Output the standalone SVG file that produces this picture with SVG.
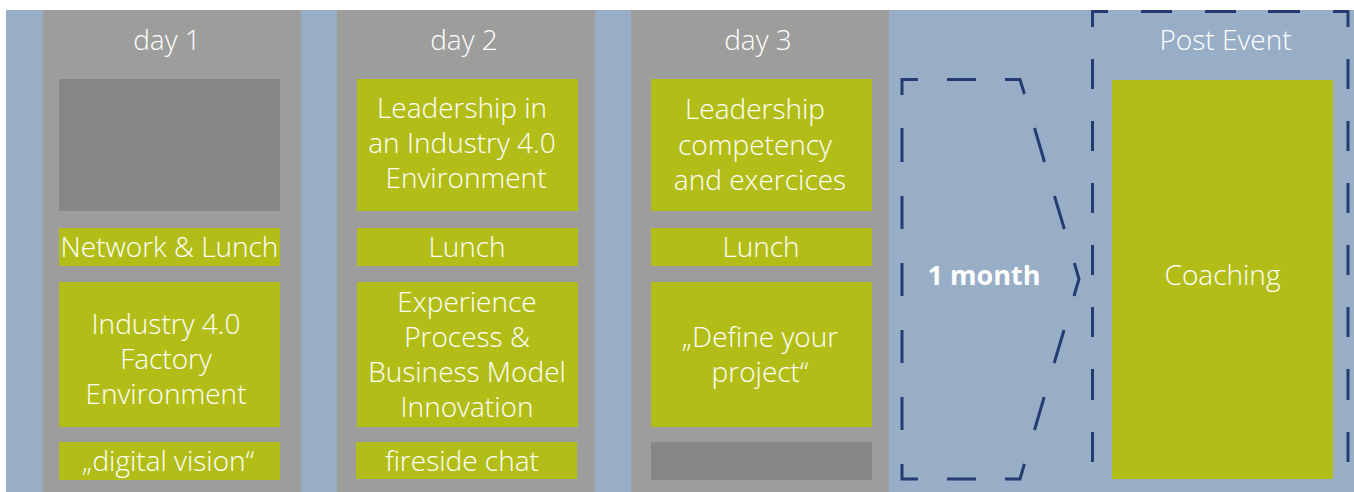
<svg xmlns="http://www.w3.org/2000/svg" width="1354" height="492" viewBox="0 0 1354 492">
<style>
.col{fill:#9d9d9b}
.gr{fill:#b2be17}
.dk{fill:#878787}
.t{font-family:"Open Sans","Noto Sans","DejaVu Sans",sans-serif;font-weight:300;font-size:28px;fill:#ffffff;text-anchor:middle}
.b{font-weight:700;font-size:27px}
.dash{fill:none;stroke:#243c72;stroke-width:3;stroke-linecap:butt;stroke-linejoin:miter}
</style>
<rect x="0" y="0" width="1354" height="492" fill="#ffffff"/>
<rect x="6" y="10" width="1348" height="482" fill="#97aec6"/>

<g id="day1">
<rect class="col" x="43" y="10" width="258" height="482"/>
<text class="t" x="167" y="50">day 1</text>
<rect class="dk" x="59" y="79" width="221" height="132"/>
<rect class="gr" x="59" y="228" width="221" height="38"/>
<text class="t" x="169.5" y="257">Network &amp; Lunch</text>
<rect class="gr" x="59" y="282" width="221" height="145"/>
<text class="t" x="166" y="334">Industry 4.0</text>
<text class="t" x="166" y="369">Factory</text>
<text class="t" x="166" y="404">Environment</text>
<rect class="gr" x="59" y="442" width="221" height="38"/>
<text class="t" x="168" y="471">„digital vision“</text>
</g>

<g id="day2">
<rect class="col" x="337" y="10" width="258" height="482"/>
<text class="t" x="464" y="50">day 2</text>
<rect class="gr" x="357" y="79" width="221" height="132"/>
<text class="t" x="462" y="118">Leadership in</text>
<text class="t" x="462" y="153">an Industry 4.0</text>
<text class="t" x="466" y="188">Environment</text>
<rect class="gr" x="357" y="228" width="221" height="38"/>
<text class="t" x="467" y="257">Lunch</text>
<rect class="gr" x="357" y="282" width="221" height="145"/>
<text class="t" x="467" y="312">Experience</text>
<text class="t" x="467" y="347">Process &amp;</text>
<text class="t" x="467" y="382">Business Model</text>
<text class="t" x="467" y="417">Innovation</text>
<rect class="gr" x="356" y="442" width="221" height="37"/>
<text class="t" x="462" y="471">fireside chat</text>
</g>

<g id="day3">
<rect class="col" x="631" y="10" width="258" height="482"/>
<text class="t" x="758" y="50">day 3</text>
<rect class="gr" x="651" y="79" width="221" height="132"/>
<text class="t" x="755" y="119">Leadership</text>
<text class="t" x="755" y="155">competency</text>
<text class="t" x="760" y="190">and exercices</text>
<rect class="gr" x="651" y="228" width="221" height="38"/>
<text class="t" x="761" y="257">Lunch</text>
<rect class="gr" x="651" y="282" width="221" height="145"/>
<text class="t" x="760" y="347">„Define your</text>
<text class="t" x="760" y="382">project“</text>
<rect class="dk" x="651" y="442" width="221" height="38"/>
</g>

<g id="one-month">
<path class="dash" d="M902,95V79.5H918 M947,79.5H976 M1005,79.5H1020L1024.4,94 M1034.5,128L1044.5,162 M1054.5,196L1064.3,229 M1074.3,263L1079,279L1074,296 M1064,330L1054.2,363 M1044.2,397L1034.5,430 M1024.4,464L1020,479H1005 M976,479H947 M918,479H902V464 M902,430V397 M902,363V330 M902,296V263 M902,229V196 M902,162V128"/>
<text class="t b" x="984" y="285">1 month</text>
</g>

<g id="post-event">
<path class="dash" d="M1092.5,27V11.5H1108 M1141,11.5H1172 M1205,11.5H1236 M1268,11.5H1300 M1333,11.5H1348V27 M1092.5,59V89 M1092.5,121V151 M1092.5,183V213 M1092.5,245V275 M1092.5,307V337 M1092.5,369V400 M1092.5,432V462 M1348,59V89 M1348,121V151 M1348,183V213 M1348,245V275 M1348,307V337 M1348,369V400 M1348,432V462"/>
<text class="t" x="1225.5" y="50">Post Event</text>
<rect class="gr" x="1112" y="80" width="221" height="399"/>
<text class="t" x="1222.5" y="285">Coaching</text>
</g>

<g id="connectors"/>
</svg>
